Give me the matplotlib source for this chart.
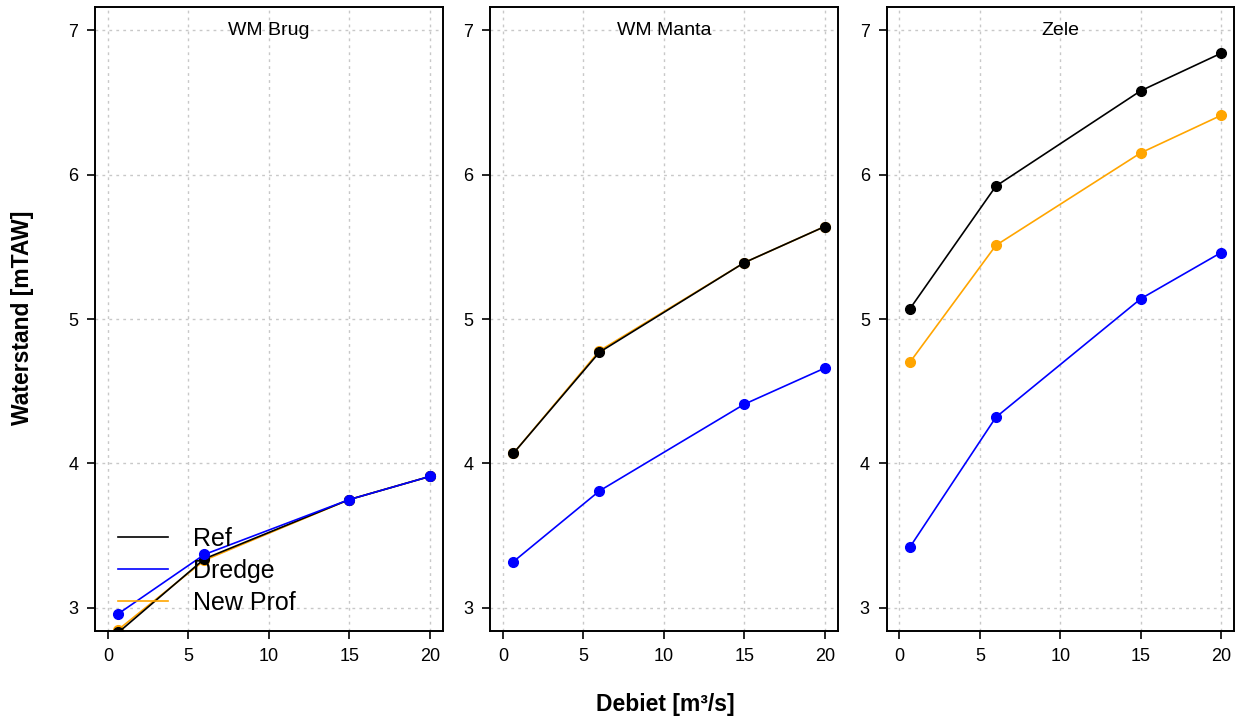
import matplotlib.pyplot as plt
import numpy as np

plt.rcParams['font.family'] = ['Liberation Sans', 'DejaVu Sans']

# discharge scenarios [m3/s]
debiet = [0.65, 6, 15, 20]

stations = ["WM Brug", "WM Manta", "Zele"]

# water levels per station [mTAW]
ref = [
    [2.83, 3.34, 3.75, 3.91],
    [4.07, 4.77, 5.39, 5.64],
    [5.07, 5.92, 6.58, 6.84],
]
dredge = [
    [2.96, 3.37, 3.75, 3.91],
    [3.32, 3.81, 4.41, 4.66],
    [3.42, 4.32, 5.14, 5.46],
]
new_prof = [
    [2.85, 3.33, 3.75, 3.91],
    [4.07, 4.78, 5.39, 5.64],
    [4.70, 5.51, 6.15, 6.41],
]

fig = plt.figure(figsize=(12.39, 7.22), dpi=100)

lefts = [0.0767, 0.3955, 0.7155]
width = 0.2805
bottom, top = 0.1260, 0.9903

axes = []
for i, name in enumerate(stations):
    ax = fig.add_axes([lefts[i], bottom, width, top - bottom])
    axes.append(ax)

    for x in [0, 5, 10, 15, 20]:
        ax.axvline(x, color="#c8c8c8", linestyle=(0, (2, 3)), linewidth=1, zorder=0)
    for y in [3, 4, 5, 6, 7]:
        ax.axhline(y, color="#c8c8c8", linestyle=(0, (2, 3)), linewidth=1, zorder=0)

    ax.plot(debiet, new_prof[i], "-o", color="orange", lw=1.2, ms=7, label="New Prof", zorder=2)
    ax.plot(debiet, ref[i], "-o", color="black", lw=1.2, ms=7, label="Ref", zorder=3)
    ax.plot(debiet, dredge[i], "-o", color="blue", lw=1.2, ms=7, label="Dredge", zorder=4)

    ax.set_xlim(-0.8, 20.8)
    ax.set_ylim(2.84, 7.16)
    ax.set_xticks([0, 5, 10, 15, 20])
    ax.set_yticks([3, 4, 5, 6, 7])
    ax.tick_params(labelsize=13, length=6, width=1.2, pad=6, direction="out")
    for sp in ax.spines.values():
        sp.set_linewidth(1.4)
    ax.text(0.5, (7 - 2.84) / (7.16 - 2.84), name, transform=ax.transAxes,
            ha="center", va="center", fontsize=14)

# legend rows: Ref, Dredge, New Prof
handles, labels = axes[0].get_legend_handles_labels()
order = [1, 2, 0]
leg_lines = [plt.Line2D([], [], color=handles[k].get_color(), lw=1.2) for k in order]
leg = axes[0].legend(leg_lines, [labels[k] for k in order], loc="lower left",
                     bbox_to_anchor=(0.0, -0.01), frameon=False, fontsize=18,
                     handlelength=2.0, handletextpad=1.0, labelspacing=0.32,
                     borderaxespad=0.5)
leg.set_zorder(10)

fig.text(0.018, 0.56, "Waterstand [mTAW]", rotation=90, ha="center", va="center",
         fontsize=16.5, fontweight="bold")
fig.text(0.537, 0.024, "Debiet [m³/s]", ha="center", va="center",
         fontsize=16.5, fontweight="bold")

fig.savefig("out.png", dpi=100)
